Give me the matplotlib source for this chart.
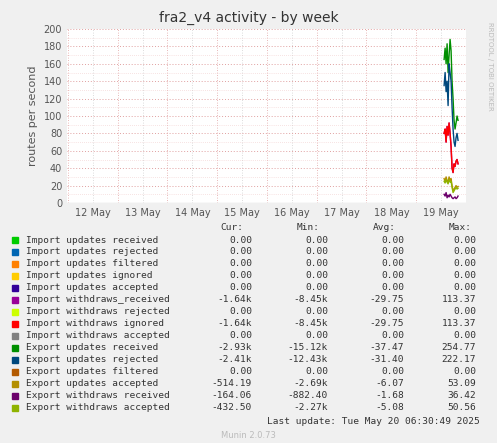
import matplotlib
matplotlib.use("Agg")
import matplotlib.pyplot as plt

# x in days since 12 May 00:00
t = [7.06, 7.08, 7.10, 7.12, 7.14, 7.16, 7.18, 7.20, 7.22, 7.24, 7.26, 7.28, 7.30, 7.32, 7.34]
export_received = [165, 178, 160, 183, 150, 170, 188, 175, 140, 120, 95, 85, 92, 100, 95]
export_rejected = [135, 150, 128, 140, 112, 160, 150, 140, 110, 85, 70, 65, 75, 80, 72]
withdraw_ignored = [80, 85, 70, 88, 78, 92, 80, 65, 40, 35, 45, 42, 48, 50, 45]
export_accepted = [28, 25, 30, 26, 24, 30, 26, 28, 20, 14, 16, 18, 20, 18, 19]
export_wd_accepted = [25, 23, 27, 24, 22, 27, 24, 25, 18, 12, 14, 16, 18, 16, 17]
export_wd_received = [10, 8, 12, 6, 9, 7, 10, 8, 6, 5, 6, 7, 5, 6, 8]

day_labels = ["12 May", "13 May", "14 May", "15 May", "16 May", "17 May", "18 May", "19 May"]

legend_rows = [
    ("#00CC00", "Import updates received", "0.00", "0.00", "0.00", "0.00"),
    ("#0066B3", "Import updates rejected", "0.00", "0.00", "0.00", "0.00"),
    ("#FF8000", "Import updates filtered", "0.00", "0.00", "0.00", "0.00"),
    ("#FFCC00", "Import updates ignored", "0.00", "0.00", "0.00", "0.00"),
    ("#330099", "Import updates accepted", "0.00", "0.00", "0.00", "0.00"),
    ("#990099", "Import withdraws_received", "-1.64k", "-8.45k", "-29.75", "113.37"),
    ("#CCFF00", "Import withdraws rejected", "0.00", "0.00", "0.00", "0.00"),
    ("#FF0000", "Import withdraws ignored", "-1.64k", "-8.45k", "-29.75", "113.37"),
    ("#808080", "Import withdraws accepted", "0.00", "0.00", "0.00", "0.00"),
    ("#008F00", "Export updates received", "-2.93k", "-15.12k", "-37.47", "254.77"),
    ("#00487D", "Export updates rejected", "-2.41k", "-12.43k", "-31.40", "222.17"),
    ("#B35A00", "Export updates filtered", "0.00", "0.00", "0.00", "0.00"),
    ("#B38F00", "Export updates accepted", "-514.19", "-2.69k", "-6.07", "53.09"),
    ("#6B006B", "Export withdraws received", "-164.06", "-882.40", "-1.68", "36.42"),
    ("#8FB300", "Export withdraws accepted", "-432.50", "-2.27k", "-5.08", "50.56"),
]

fig = plt.figure(figsize=(4.97, 4.43), dpi=100, facecolor="#F0F0F0")
ax = fig.add_axes([67 / 497, 1 - 203 / 443, 399 / 497, 174 / 443])
ax.set_facecolor("white")

ax.plot(t, export_received, color="#008F00", lw=1)
ax.plot(t, export_rejected, color="#00487D", lw=1)
ax.plot(t, withdraw_ignored, color="#990099", lw=1)
ax.plot(t, withdraw_ignored, color="#FF0000", lw=1)
ax.plot(t, export_accepted, color="#B38F00", lw=1)
ax.plot(t, export_wd_accepted, color="#8FB300", lw=1)
ax.plot(t, export_wd_received, color="#6B006B", lw=1)

ax.set_xlim(-0.52, 7.35)
ax.set_ylim(0, 200)
ax.set_yticks(range(0, 201, 20))
ax.set_xticks(range(8))
ax.set_xticklabels(day_labels)
ax.set_yticks(range(0, 201, 10), minor=True)
ax.set_xticks([d + 0.5 for d in range(-1, 8)], minor=True)
ax.grid(True, which="major", axis="y", color="#E0A0A0", ls=(0, (1, 2)), lw=0.7)
ax.grid(True, which="minor", axis="y", color="#F0C8C8", ls=(0, (1, 2)), lw=0.5)
ax.grid(True, which="major", axis="x", color="#D0D0D0", ls=(0, (1, 2)), lw=0.6)
ax.grid(True, which="minor", axis="x", color="#E0A0A0", ls=(0, (1, 2)), lw=0.6)
ax.tick_params(which="both", labelsize=7, colors="#555555", length=0)
for s in ax.spines.values():
    s.set_visible(False)
ax.axhline(0, color="#888888", lw=0.8)
ax.set_ylabel("routes per second", fontsize=8, color="#555555")

fig.text(0.5, 1 - 18 / 443, "fra2_v4 activity - by week", ha="center", va="center", fontsize=10, color="#333333")
fig.text(0.985, 0.85, "RRDTOOL / TOBI OETIKER", rotation=270, fontsize=5, color="#BBBBBB", ha="center", va="center")

y0 = 228
dy = 12.0
mono = "DejaVu Sans Mono"
fs = 6.8
for x, lab in [(243, "Cur:"), (320, "Min:"), (396, "Avg:"), (472, "Max:")]:
    fig.text(x / 497, 1 - y0 / 443, lab, ha="right", va="center", fontsize=fs, family=mono, color="#333333")
for i, (c, name, cur, mn, avg, mx) in enumerate(legend_rows):
    y = 1 - (y0 + dy * (i + 1)) / 443
    fig.patches.append(plt.Rectangle((12 / 497, y - 3 / 443), 6 / 497, 6 / 443, transform=fig.transFigure, color=c))
    fig.text(26 / 497, y, name, va="center", fontsize=fs, family=mono, color="#333333")
    for x, v in [(252, cur), (328, mn), (404, avg), (476, mx)]:
        fig.text(x / 497, y, v, ha="right", va="center", fontsize=fs, family=mono, color="#333333")
fig.text(480 / 497, 1 - 421 / 443, "Last update: Tue May 20 06:30:49 2025", ha="right", va="center", fontsize=fs, family=mono, color="#333333")
fig.text(0.5, 1 - 435 / 443, "Munin 2.0.73", ha="center", va="center", fontsize=6, color="#BBBBBB")

fig.savefig("out.png", dpi=100, facecolor=fig.get_facecolor())
